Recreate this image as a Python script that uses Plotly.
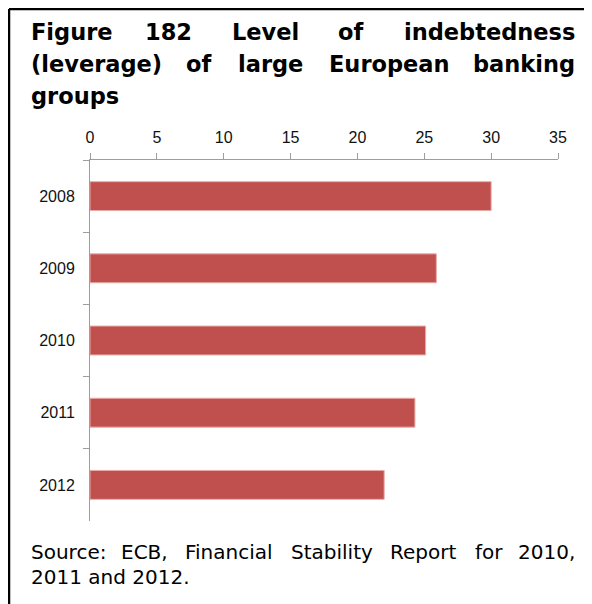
import plotly.graph_objects as go

# data
years = ["2008", "2009", "2010", "2011", "2012"]
leverage = [30.0, 25.9, 25.1, 24.3, 22.0]

title_lines = [
    ["Figure", "182", "Level", "of", "indebtedness"],
    ["(leverage)", "of", "large", "European", "banking"],
    ["groups"],
]
source_lines = [
    ["Source:", "ECB,", "Financial", "Stability", "Report", "for", "2010,"],
    ["2011 and 2012."],
]

# the page body has an 8px margin, so the figure is 8px smaller and
# positions below are given in window pixels, then shifted
OFF = 8
W, H = 592 - OFF, 604 - OFF
L, R, T, B = 90 - OFF, 34, 160 - OFF, 83
PW, PH = W - L - R, H - T - B
AXIS = "#9d9d9d"
BAR = "#c0504d"


def px(x):
    return (x - OFF - L) / PW


def py(y):
    return (H - B - (y - OFF)) / PH


fig = go.Figure(go.Bar(
    x=leverage, y=years, orientation="h",
    marker=dict(color=BAR, line=dict(color="#e8aaa8", width=1)),
    hoverinfo="x+y",
))

fig.update_layout(
    width=W, height=H,
    margin=dict(l=L, r=R, t=T, b=B, pad=0),
    paper_bgcolor="white", plot_bgcolor="white",
    showlegend=False, bargap=0.6,
    font=dict(family="Liberation Sans Narrow, Liberation Sans, Arial, sans-serif", size=16, color="#111"),
    xaxis=dict(
        side="top", range=[0, 35], dtick=5, showgrid=False, zeroline=False,
        showline=True, linecolor=AXIS, linewidth=1,
        ticks="outside", ticklen=6, tickcolor=AXIS, tickwidth=1,
        ticklabelstandoff=4,
    ),
    yaxis=dict(
        type="category", autorange="reversed", showgrid=False, zeroline=False,
        showline=True, linecolor=AXIS, linewidth=1,
        ticks="outside", tickson="boundaries", ticklen=6, tickcolor=AXIS, tickwidth=1,
        ticklabelstandoff=11,
    ),
)

# justified text: first word left, last word right, middle words centred
LEFT, RIGHT = 28.5, 577
title_centres = [[168, 265, 350], [198, 270, 389]]
title_y = [32, 64, 96]
source_centres = [[144, 229, 332, 423, 489]]
source_y = [552, 577]


def put_line(words, centres, y, size, bold):
    fnt = dict(family="DejaVu Sans, Verdana, sans-serif", size=size, color="black",
               weight="bold" if bold else "normal")
    fig.add_annotation(text=words[0], x=px(LEFT), y=py(y), xref="paper", yref="paper",
                       xanchor="left", yanchor="middle", showarrow=False, font=fnt)
    if len(words) > 1:
        for w, c in zip(words[1:-1], centres):
            fig.add_annotation(text=w, x=px(c), y=py(y), xref="paper", yref="paper",
                               xanchor="center", yanchor="middle", showarrow=False, font=fnt)
        fig.add_annotation(text=words[-1], x=px(RIGHT), y=py(y), xref="paper", yref="paper",
                           xanchor="right", yanchor="middle", showarrow=False, font=fnt)


for i, line in enumerate(title_lines):
    put_line(line, title_centres[i] if i < len(title_centres) else [], title_y[i], 22.5, True)
for i, line in enumerate(source_lines):
    put_line(line, source_centres[i] if i < len(source_centres) else [], source_y[i], 20, False)

# frame around the figure (open at the bottom)
frame = dict(type="line", xref="paper", yref="paper", line=dict(color="black", width=2.5))
fig.add_shape(x0=px(9), x1=px(9), y0=py(9), y1=py(610), **frame)
fig.add_shape(x0=px(9), x1=px(590), y0=py(9), y1=py(9), **frame)
fig.add_shape(x0=px(590), x1=px(590), y0=py(9), y1=py(610), **frame)

fig.write_html("out.html")
